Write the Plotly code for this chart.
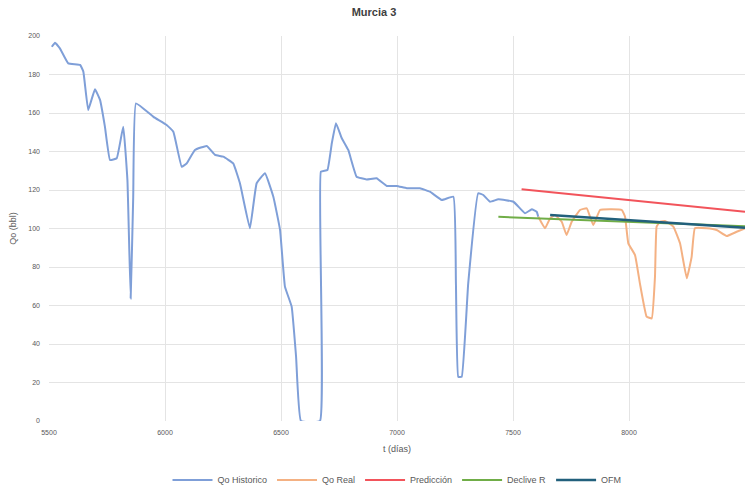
import plotly.graph_objects as go

# Qo Historico
hist_t = [5512, 5526, 5547, 5583, 5634, 5648, 5669, 5698, 5720, 5741, 5763, 5792, 5820,
          5838, 5852, 5863, 5875, 5950, 6007, 6036, 6072, 6093, 6129, 6180, 6216, 6251,
          6294, 6323, 6366, 6395, 6431, 6467, 6496, 6517, 6546, 6565, 6586, 6668, 6672,
          6700, 6719, 6737, 6762, 6790, 6826, 6869, 6912, 6956, 6999, 7042, 7099, 7142,
          7193, 7243, 7254, 7264, 7279, 7307, 7350, 7372, 7401, 7437, 7502, 7552, 7581,
          7602, 7609]
hist_q = [194.4, 196.5, 193.6, 185.8, 185.0, 181.5, 161.6, 172.3, 166.8, 152.9, 135.6, 136.5, 152.9,
          125.2, 63.7, 116.5, 165.0, 158.0, 153.8, 150.3, 132.1, 133.8, 140.8, 142.9, 138.2, 137.3,
          133.8, 123.5, 100.1, 123.5, 128.7, 116.5, 99.2, 69.8, 59.4, 33.4, 0.0, 0.0, 129.5,
          130.4, 144.3, 154.7, 146.9, 140.8, 126.9, 125.5, 126.1, 122.1, 122.1, 120.9, 120.9, 119.1,
          114.8, 116.5, 71.5, 23.0, 23.0, 71.5, 118.3, 117.4, 113.9, 115.2, 113.9, 107.9, 110.0,
          108.7, 106.1]

# Qo Real
real_t = [7609, 7638, 7660, 7681, 7710, 7731, 7753, 7789, 7818, 7846, 7875, 7918, 7969, 7983,
          7997, 8026, 8047, 8076, 8098, 8112, 8119, 8134, 8155, 8191, 8220, 8249, 8270, 8284,
          8335, 8378, 8421, 8464, 8500]
real_q = [106.1, 100.1, 105.3, 107.0, 103.5, 96.6, 103.5, 109.6, 110.5, 101.8, 109.6, 110.0, 109.6, 106.1,
          92.3, 86.2, 71.5, 54.2, 53.3, 75.0, 101.0, 103.5, 103.9, 101.0, 92.3, 74.1, 85.3, 100.1,
          100.1, 99.2, 96.1, 98.3, 100.1]

# Predicción
pred_t = [7537, 8500]
pred_q = [120.4, 108.7]

# Declive R
decl_t = [7437, 8500]
decl_q = [106.1, 101.2]

# OFM
ofm_t = [7660, 8500]
ofm_q = [107.0, 100.4]

x_ticks = [5500, 6000, 6500, 7000, 7500, 8000, 8500]
y_ticks = [0, 20, 40, 60, 80, 100, 120, 140, 160, 180, 200]

fig = go.Figure()
fig.add_trace(go.Scatter(x=hist_t, y=hist_q, mode="lines", name="Qo Historico",
                         line=dict(color="#7F9FD8", width=2, shape="spline", smoothing=0.3)))
fig.add_trace(go.Scatter(x=real_t, y=real_q, mode="lines", name="Qo Real",
                         line=dict(color="#F4B183", width=2, shape="spline", smoothing=0.3)))
fig.add_trace(go.Scatter(x=pred_t, y=pred_q, mode="lines", name="Predicción",
                         line=dict(color="#F2545B", width=2)))
fig.add_trace(go.Scatter(x=decl_t, y=decl_q, mode="lines", name="Declive R",
                         line=dict(color="#70AD47", width=2)))
fig.add_trace(go.Scatter(x=ofm_t, y=ofm_q, mode="lines", name="OFM",
                         line=dict(color="#22607C", width=2.5)))

fig.update_layout(
    width=748, height=488,
    margin=dict(l=49, r=3, t=36, b=67, autoexpand=False),
    paper_bgcolor="white", plot_bgcolor="white",
    font=dict(family="Liberation Sans, Arial, sans-serif", color="#595959", size=9),
    title=dict(text="<b>Murcia 3</b>", x=0.5, xanchor="center", y=0.975, yanchor="middle",
               font=dict(size=11, color="#404040")),
    showlegend=True,
    legend=dict(orientation="h", x=0.5, xanchor="center", y=-0.153, yanchor="middle",
                font=dict(size=9, color="#595959"), itemwidth=40),
    xaxis=dict(range=[5500, 8500], tickvals=x_ticks, showgrid=True, gridcolor="#E4E4E4",
               zeroline=False, showline=False, ticks="", tickfont=dict(size=7),
               ticklabelstandoff=6, automargin=False,
               title=dict(text="t (días)", font=dict(size=9), standoff=10)),
    yaxis=dict(range=[0, 200], tickvals=y_ticks, showgrid=True, gridcolor="#E4E4E4",
               zeroline=False, showline=False, ticks="", tickfont=dict(size=7),
               ticklabelstandoff=8, automargin=False,
               title=dict(text="Qo (bbl)", font=dict(size=9), standoff=10)),
)

fig.write_html("out.html", config={"displayModeBar": False},
               post_script="document.body.style.margin='0';document.body.style.overflow='hidden';")
